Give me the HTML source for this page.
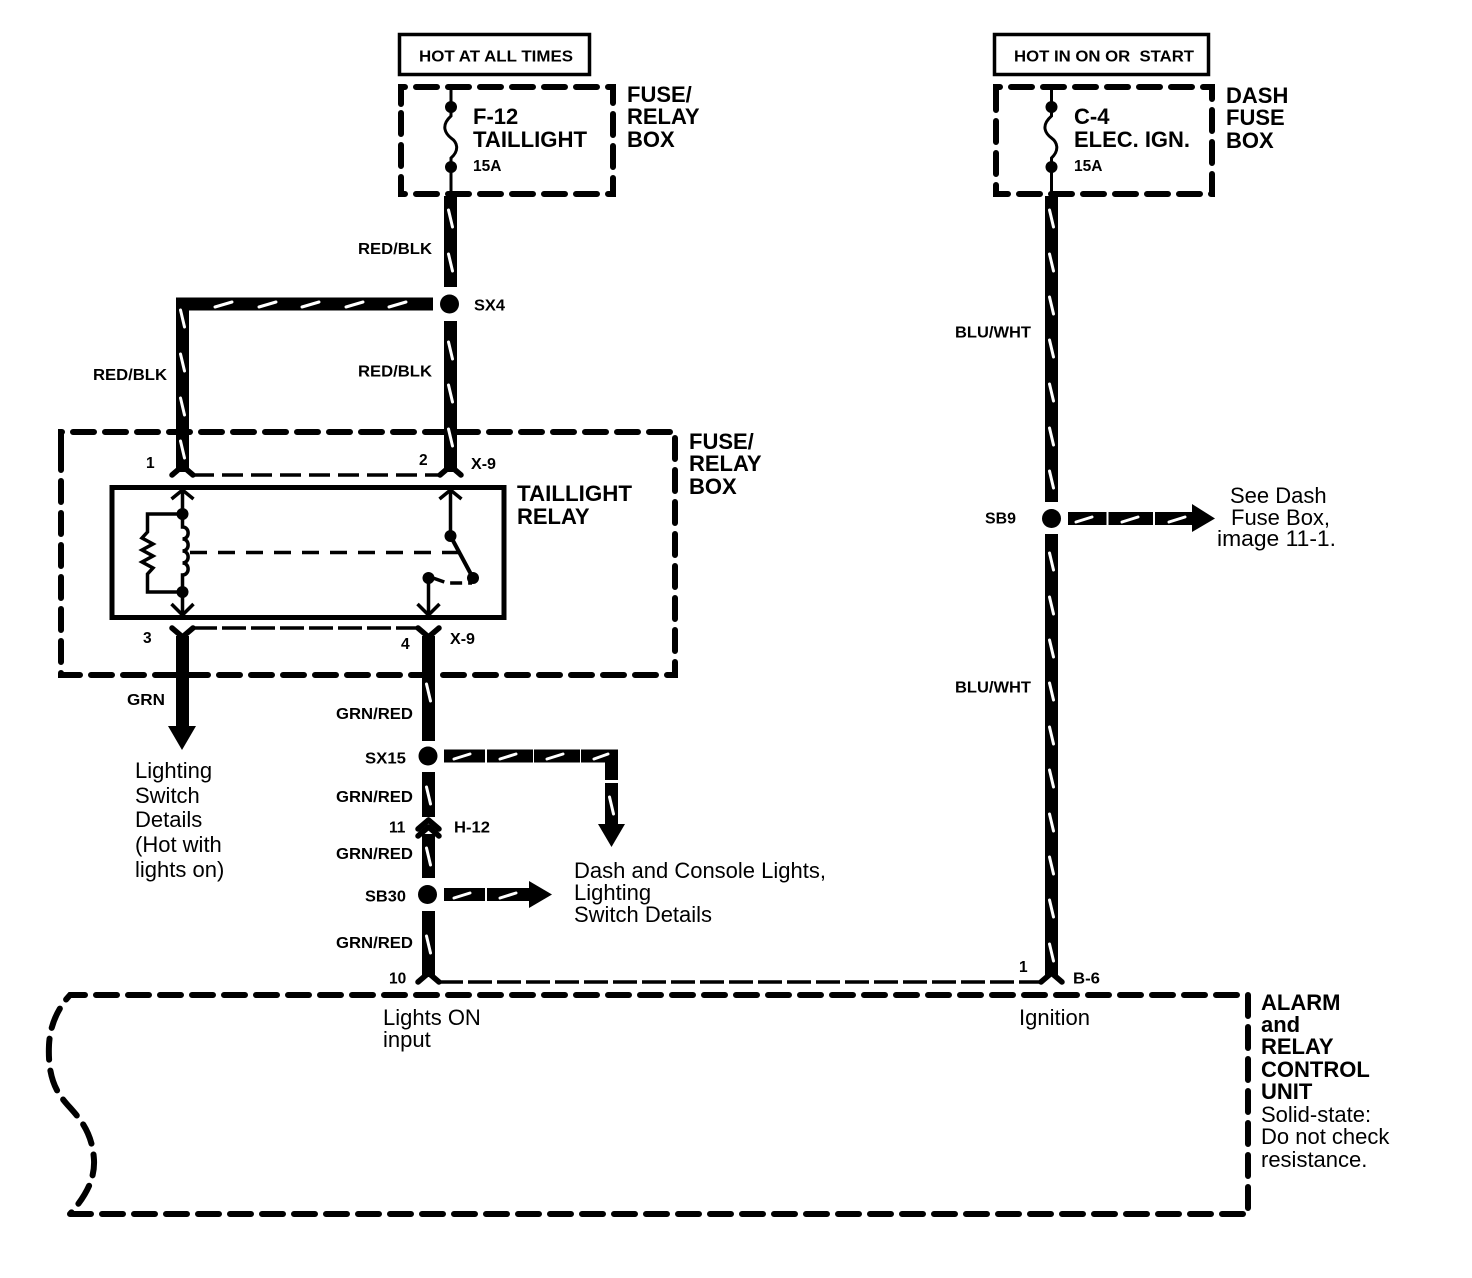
<!DOCTYPE html>
<html><head><meta charset="utf-8"><style>
html,body{margin:0;padding:0;background:#fff}
svg{display:block}
text{font-family:"Liberation Sans",sans-serif;fill:#000}
.b{font-weight:bold}
.l{font-size:15.5px;font-weight:bold}
.n{font-size:15.5px;font-weight:bold}
.h{font-size:22px;font-weight:bold}
.r{font-size:22px}
</style></head><body>
<svg width="1472" height="1278" viewBox="0 0 1472 1278" xmlns="http://www.w3.org/2000/svg">
<rect width="1472" height="1278" fill="#fff"/>

<!-- dashed boxes -->
<g fill="none" stroke="#000" stroke-width="6" stroke-linecap="round" stroke-dasharray="21 11">
<path d="M61 452V432H675V675H61V452" />
<path d="M401 104V87H613V194H401V104"/>
<path d="M996 104V87H1212V194H996V104"/>
<path d="M70 1214H1248V995H70C58 1008 50 1025 49 1045C48 1068 52 1085 62 1098C72 1112 92 1125 94 1160C95 1180 85 1197 70 1214"/>
</g>

<!-- top boxes -->
<rect x="399.500" y="34.500" width="190" height="40" fill="#fff" stroke="#000" stroke-width="3.500"/>
<rect x="994.500" y="34.500" width="214" height="40" fill="#fff" stroke="#000" stroke-width="3.500"/>

<!-- thick wires -->
<g fill="none" stroke="#000" stroke-width="13">
<path d="M450.500 196V287M450.500 321V472"/>
<path d="M433 304H182.500V472"/>
<path d="M1051.500 196V502M1051.500 534V976"/>
<path d="M182.500 636V728"/>
<path d="M428.500 636V741M428.500 772V817M428.500 834V878M428.500 911V977"/>
<path d="M444 756H485M487 756H533M534 756H580M581 756H611.500V780M611.500 783V826"/>
<path d="M444 894.500H485M487 894.500H533"/>
<path d="M1068 518.500H1106.500M1108.500 518.500H1153M1155 518.500H1193"/>
</g>

<!-- arrowheads -->
<path d="M168 726H196L182 750Z"/>
<path d="M598 824H625L611.500 847Z"/>
<path d="M529 881L552 894.500L529 908Z"/>
<path d="M1192 504L1215 518.500L1192 532Z"/>

<!-- junction dots -->
<circle cx="449.500" cy="304" r="9.500"/>
<circle cx="428" cy="756" r="9.500"/>
<circle cx="427.500" cy="894.500" r="9.500"/>
<circle cx="1051.500" cy="518.500" r="9.500"/>

<!-- white ticks -->
<g fill="none" stroke="#fff" stroke-width="3" stroke-linecap="round">
<path d="M448.500 210l4 17M448.500 254l4 17M448.500 342l4 17M448.500 385l4 17M448.500 429l4 17"/>
<path d="M180.500 310l4 17M180.500 354l4 17M180.500 398l4 17M180.500 441l4 17"/>
<path d="M215 307l17-5M259 307l17-5M302 307l17-5M346 307l17-5M389 307l17-5"/>
<path d="M1049.500 210l4 17M1049.500 254l4 17M1049.500 297l4 17M1049.500 340l4 17M1049.500 384l4 17M1049.500 428l4 17M1049.500 471l4 17M1049.500 553l4 17M1049.500 597l4 17M1049.500 640l4 17M1049.500 683l4 17M1049.500 727l4 17M1049.500 770l4 17M1049.500 814l4 17M1049.500 857l4 17M1049.500 900l4 17M1049.500 944l4 17"/>
<path d="M426.500 684l4 17M426.500 787l4 17M426.500 848l4 17M426.500 936l4 17M609.500 797l4 17"/>
<path d="M454 759l16-5M500 759l16-5M547 759l16-5M594 759l14-5"/>
<path d="M454 898l16-5M500 898l16-5"/>
<path d="M1076 522l16-5M1122 522l16-5M1169 522l16-5"/>
</g>

<!-- connector forks -->
<g fill="none" stroke="#000" stroke-width="5.500" stroke-linecap="round" stroke-linejoin="round">
<path d="M172 475L182.500 466L193 475"/>
<path d="M440 475L450.500 466L461 475"/>
<path d="M172 628L182.500 637L193 628"/>
<path d="M418 628L428.500 637L439 628"/>
<path d="M418 829L428.500 820L439 829"/>
<path d="M418 836L428.500 827L439 836"/>
<path d="M418 982L428.500 973L439 982"/>
<path d="M1041 982L1051.500 973L1062 982"/>
</g>

<!-- thin dashed connector lines -->
<g fill="none" stroke="#000" stroke-width="3.500">
<path d="M193 475H440" stroke-dasharray="21 8"/>
<path d="M193 628H418" stroke-dasharray="24 5"/>
<path d="M439 982H1041" stroke-dasharray="24 5"/>
</g>

<!-- relay box -->
<rect x="112" y="487.500" width="392" height="130" fill="none" stroke="#000" stroke-width="5"/>
<g fill="none" stroke="#000" stroke-width="3.500">
<path d="M182.500 490V514M182.500 592V616"/>
<path d="M171.500 499L182.500 490L193.500 499"/>
<path d="M171.500 604L182.500 615L193.500 604"/>
<path d="M182.500 514V527C190 527 190 539 182.500 539C190 539 190 551 182.500 551C190 551 190 563 182.500 563C190 563 190 575 182.500 575V592"/>
<path d="M182.500 514H147.500V532L142 538L153 544L142 550L153 556L142 562L153 568L147.500 574V592H182.500" stroke-linejoin="miter"/>
<path d="M450.500 490V536"/>
<path d="M439.500 499L450.500 490L461.500 499"/>
<path d="M428.500 578V615"/>
<path d="M417.500 604L428.500 615L439.500 604"/>
<path d="M450.500 536L473 578" stroke-width="4"/>
<path d="M190 552.500H460" stroke-dasharray="17 11"/>
<path d="M433 578L447 583H472" stroke-dasharray="12 6"/>
</g>
<circle cx="182.500" cy="514" r="6"/>
<circle cx="182.500" cy="592" r="6"/>
<circle cx="450.500" cy="536" r="6"/>
<circle cx="428.500" cy="578" r="6"/>
<circle cx="473" cy="578" r="6"/>

<!-- fuses -->
<g fill="none" stroke="#000" stroke-width="3">
<path d="M451 90V116C440 126 446 134 451 138C457 142 460 150 451 158V194"/>
<path d="M1051.500 90V116C1040 126 1046 134 1051.500 138C1057 142 1060 150 1051.500 158V194"/>
</g>
<circle cx="451" cy="107" r="6"/>
<circle cx="451" cy="167" r="6"/>
<circle cx="1051.500" cy="107" r="6"/>
<circle cx="1051.500" cy="167" r="6"/>

<!-- text -->
<text class="l" x="419" y="61.500" textLength="154" lengthAdjust="spacingAndGlyphs">HOT AT ALL TIMES</text>
<text class="l" x="1014" y="61.500" textLength="180" lengthAdjust="spacingAndGlyphs" style="white-space:pre">HOT IN ON OR  START</text>

<text class="h" x="473" y="124">F-12</text>
<text class="h" x="473" y="147" textLength="114" lengthAdjust="spacingAndGlyphs">TAILLIGHT</text>
<text class="n" x="473" y="171">15A</text>
<text class="h" x="627" y="102">FUSE/</text>
<text class="h" x="627" y="124">RELAY</text>
<text class="h" x="627" y="147">BOX</text>

<text class="h" x="1074" y="124">C-4</text>
<text class="h" x="1074" y="147" textLength="116" lengthAdjust="spacingAndGlyphs">ELEC. IGN.</text>
<text class="n" x="1074" y="171">15A</text>
<text class="h" x="1226" y="103">DASH</text>
<text class="h" x="1226" y="125">FUSE</text>
<text class="h" x="1226" y="148">BOX</text>

<text class="l" x="358" y="254" textLength="74" lengthAdjust="spacingAndGlyphs">RED/BLK</text>
<text class="l" x="474" y="310.500" textLength="31" lengthAdjust="spacingAndGlyphs">SX4</text>
<text class="l" x="93" y="380" textLength="74" lengthAdjust="spacingAndGlyphs">RED/BLK</text>
<text class="l" x="358" y="376.500" textLength="74" lengthAdjust="spacingAndGlyphs">RED/BLK</text>

<text class="l" x="955" y="337.500" textLength="76" lengthAdjust="spacingAndGlyphs">BLU/WHT</text>
<text class="l" x="955" y="692.500" textLength="76" lengthAdjust="spacingAndGlyphs">BLU/WHT</text>
<text class="l" x="985" y="523.500" textLength="31" lengthAdjust="spacingAndGlyphs">SB9</text>

<text class="h" x="689" y="449">FUSE/</text>
<text class="h" x="689" y="471">RELAY</text>
<text class="h" x="689" y="494">BOX</text>
<text class="h" x="517" y="501" textLength="115" lengthAdjust="spacingAndGlyphs">TAILLIGHT</text>
<text class="h" x="517" y="524">RELAY</text>

<text class="n" x="146" y="468">1</text>
<text class="n" x="419" y="465">2</text>
<text class="l" x="471" y="469" textLength="25" lengthAdjust="spacingAndGlyphs">X-9</text>
<text class="n" x="143" y="643">3</text>
<text class="n" x="401" y="649">4</text>
<text class="l" x="450" y="644" textLength="25" lengthAdjust="spacingAndGlyphs">X-9</text>

<text class="l" x="127" y="705" textLength="38" lengthAdjust="spacingAndGlyphs">GRN</text>
<text class="l" x="336" y="719" textLength="77" lengthAdjust="spacingAndGlyphs">GRN/RED</text>
<text class="l" x="365" y="763.500" textLength="41" lengthAdjust="spacingAndGlyphs">SX15</text>
<text class="l" x="336" y="802" textLength="77" lengthAdjust="spacingAndGlyphs">GRN/RED</text>
<text class="n" x="389" y="832.500">11</text>
<text class="l" x="454" y="832.500" textLength="36" lengthAdjust="spacingAndGlyphs">H-12</text>
<text class="l" x="336" y="859" textLength="77" lengthAdjust="spacingAndGlyphs">GRN/RED</text>
<text class="l" x="365" y="901.500" textLength="41" lengthAdjust="spacingAndGlyphs">SB30</text>
<text class="l" x="336" y="948" textLength="77" lengthAdjust="spacingAndGlyphs">GRN/RED</text>
<text class="n" x="389" y="983.500">10</text>
<text class="n" x="1019" y="972">1</text>
<text class="l" x="1073" y="983.500" textLength="27" lengthAdjust="spacingAndGlyphs">B-6</text>

<text class="r" x="135" y="778">Lighting</text>
<text class="r" x="135" y="803">Switch</text>
<text class="r" x="135" y="827">Details</text>
<text class="r" x="135" y="852">(Hot with</text>
<text class="r" x="135" y="877">lights on)</text>

<text class="r" x="574" y="878" textLength="252" lengthAdjust="spacingAndGlyphs">Dash and Console Lights,</text>
<text class="r" x="574" y="900">Lighting</text>
<text class="r" x="574" y="922" textLength="138" lengthAdjust="spacingAndGlyphs">Switch Details</text>

<text class="r" x="1230" y="503">See Dash</text>
<text class="r" x="1231" y="525">Fuse Box,</text>
<text class="r" x="1217" y="546" textLength="119" lengthAdjust="spacingAndGlyphs">image 11-1.</text>

<text class="r" x="383" y="1025">Lights ON</text>
<text class="r" x="383" y="1047">input</text>
<text class="r" x="1019" y="1025">Ignition</text>

<text class="h" x="1261" y="1010">ALARM</text>
<text class="h" x="1261" y="1032">and</text>
<text class="h" x="1261" y="1054">RELAY</text>
<text class="h" x="1261" y="1077">CONTROL</text>
<text class="h" x="1261" y="1099">UNIT</text>
<text class="r" x="1261" y="1122">Solid-state:</text>
<text class="r" x="1261" y="1144">Do not check</text>
<text class="r" x="1261" y="1167">resistance.</text>
</svg>
</body></html>
